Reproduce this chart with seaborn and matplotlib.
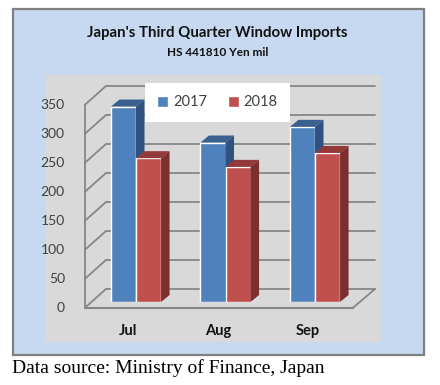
import matplotlib
matplotlib.use('Agg')
import matplotlib.pyplot as plt
import pandas as pd
import seaborn as sns
from matplotlib.patches import Polygon, Rectangle
from matplotlib.transforms import Affine2D, IdentityTransform

months = ["Jul", "Aug", "Sep"]
years = ["2017", "2018"]
values_2017 = [337, 275, 302]
values_2018 = [248, 233, 257]
y_ticks = [0, 50, 100, 150, 200, 250, 300, 350]

W, H = 440, 385
BLUE, BLUE_TOP, BLUE_SIDE = "#4f81bd", "#3a6090", "#2f5282"
RED, RED_TOP, RED_SIDE = "#c0504d", "#94393a", "#7c2f2e"
GRID = "#868686"

sns.set_style("white")
plt.rcParams['font.family'] = ['Lato', 'DejaVu Sans']

df = pd.DataFrame({
    'Month': months * 2,
    'Year': [years[0]] * 3 + [years[1]] * 3,
    'Value': values_2017 + values_2018,
})

fig = plt.figure(figsize=(W / 100, H / 100), dpi=100, facecolor="white")
ident = IdentityTransform()


def rect_px(x0, top, x1, bottom, **kw):
    # pixel box, measured from top left like the screenshot
    fig.add_artist(Rectangle((x0, H - bottom), x1 - x0, bottom - top, transform=ident, zorder=-1, **kw))


rect_px(13, 9, 424, 355, facecolor="#c6d9f1", edgecolor="#7f7f7f", linewidth=1.6)
rect_px(46, 75, 381, 342, facecolor="#d9d9d9", edgecolor="none")

ax = fig.add_axes([91.25 / W, (H - 302) / H, (359.75 - 91.25) / W, 203 / H])
ax.patch.set_alpha(0)
sns.barplot(data=df, x='Month', y='Value', hue='Year', order=months, hue_order=years,
            palette=[BLUE, RED], width=0.56, gap=0, saturation=1, ax=ax, legend=False)
ax.set_xlim(-0.5, 2.5)
ax.set_ylim(0, 350)
ax.set_xlabel("")
ax.set_ylabel("")
sns.despine(ax=ax, left=True, bottom=True)


def wall_lines():
    # back wall sits up and right of the bars, front edge just below them
    for v in y_ticks:
        y = ax.transData.transform((0, v))[1]
        back = y + 13
        front = y - 5.7
        ax.plot([106, 375], [back, back], transform=ident, color=GRID, lw=1.3, clip_on=False, zorder=0.5)
        ax.plot([85, 106], [front, back], transform=ident, color=GRID, lw=1.3, clip_on=False, zorder=0.5)
    y0 = ax.transData.transform((0, 0))[1]
    y1 = ax.transData.transform((0, 350))[1]
    ax.plot([85, 85], [y0 - 5.7, y1 - 5.7], transform=ident, color=GRID, lw=1.3, clip_on=False, zorder=0.5)
    ax.plot([85, 353], [y0 - 5.7, y0 - 5.7], transform=ident, color=GRID, lw=1.5, clip_on=False, zorder=0.5)
    ax.plot([353, 375], [y0 - 5.7, y0 + 13], transform=ident, color=GRID, lw=1.3, clip_on=False, zorder=0.5)


wall_lines()

DX, DY = 8.5, 7.0
bars = list(ax.patches)
for i, bar in enumerate(bars):
    is_blue = i < len(months)
    top_c, side_c = (BLUE_TOP, BLUE_SIDE) if is_blue else (RED_TOP, RED_SIDE)
    z = 3 if is_blue else 4
    bar.set_zorder(z)
    x0, y0 = ax.transData.transform((bar.get_x(), 0))
    x1, y1 = ax.transData.transform((bar.get_x() + bar.get_width(), bar.get_height()))
    ax.add_patch(Polygon([(x0, y1), (x1, y1), (x1 + DX, y1 + DY), (x0 + DX, y1 + DY)], closed=True,
                         transform=ident, facecolor=top_c, edgecolor="none", clip_on=False, zorder=z))
    ax.add_patch(Polygon([(x1, y0), (x1 + DX, y0 + DY), (x1 + DX, y1 + DY), (x1, y1)], closed=True,
                         transform=ident, facecolor=side_c, edgecolor="none", clip_on=False, zorder=z))

ax.set_yticks(y_ticks)
ax.tick_params(axis='both', length=0)
ax.tick_params(axis='y', pad=19, labelsize=10, labelcolor="#404040")
ax.tick_params(axis='x', pad=16, labelsize=10.5, labelcolor="#111111")
for lab in ax.get_yticklabels():
    lab.set_transform(lab.get_transform() + Affine2D().translate(0, -5))
for lab in ax.get_xticklabels():
    lab.set_fontweight('bold')
    lab.set_transform(lab.get_transform() + Affine2D().translate(-7.5, 0))

fig.text(217 / W, 1 - 32.5 / H, "Japan's Third Quarter Window Imports", ha='center', va='center',
         fontsize=10.8, fontweight='bold', color="#111111")
fig.text(217.5 / W, 1 - 52 / H, "HS 441810 Yen mil", ha='center', va='center',
         fontsize=8.5, fontweight='bold', color="#111111")

# legend box is a plain white rectangle above the chart
handles = [Rectangle((0, 0), 1, 1, facecolor=BLUE), Rectangle((0, 0), 1, 1, facecolor=RED)]
leg = fig.legend(handles, years, loc='center', bbox_to_anchor=(217.5 / W, 1 - 102.5 / H), ncol=2,
                 fontsize=10.5, frameon=True, fancybox=False, framealpha=1, facecolor="white", edgecolor="none",
                 handlelength=0.75, handleheight=0.75, handletextpad=0.35, columnspacing=1.4,
                 borderpad=0.85, borderaxespad=0, labelcolor="#404040")
leg.set_zorder(10)

fig.text(12 / W, 1 - 368 / H, "Data source: Ministry of Finance, Japan", ha='left', va='center',
         fontsize=14, family=['Liberation Serif'], color="black")

fig.savefig("out.png", dpi=100)
